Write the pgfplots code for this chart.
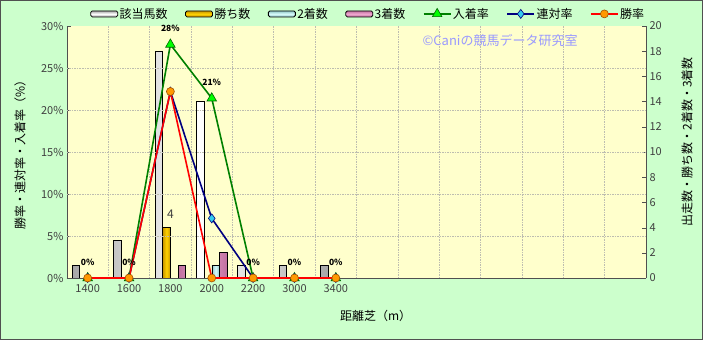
\documentclass[border=0pt]{standalone}
\usepackage{pgfplots}
\pgfplotsset{compat=1.18}
\usepackage{fontspec}
\setmainfont{Noto Sans CJK JP}
\definecolor{outerbg}{HTML}{CCFFCC}
\definecolor{plotbg}{HTML}{FFFFCC}
\definecolor{axisgray}{HTML}{505050}
\definecolor{tickgray}{HTML}{404040}
\definecolor{gridgray}{HTML}{BDBDB0}
\definecolor{wm}{HTML}{9999FF}
\definecolor{greenline}{HTML}{008000}
\definecolor{trifill}{HTML}{00FF00}
\definecolor{tridraw}{HTML}{006400}
\definecolor{navyline}{HTML}{000080}
\definecolor{diafill}{HTML}{33CCEE}
\definecolor{redline}{HTML}{FF0000}
\definecolor{circfill}{HTML}{FF9900}
\definecolor{circdraw}{HTML}{A05000}
\definecolor{goldA}{HTML}{C89600}
\definecolor{goldB}{HTML}{FFD200}
\definecolor{cyanA}{HTML}{90C8C8}
\definecolor{cyanB}{HTML}{D8FAFA}
\definecolor{pinkA}{HTML}{C070A0}
\definecolor{pinkB}{HTML}{F0A8D0}
\definecolor{whiteA}{HTML}{A8A8A8}
\pgfplotsset{
  barlegend/.style={legend image code/.code={\draw[##1,rounded corners=1.5pt] (0pt,-3pt) rectangle (27pt,3pt);}},
  linelegend/.style={legend image code/.code={\draw[mark repeat=2,mark phase=2,##1] plot coordinates {(0pt,0pt) (13.5pt,0pt) (27pt,0pt)};}},
}
\begin{document}
\begin{tikzpicture}[x=1pt,y=1pt]
\fill[outerbg] (0,0) rectangle (703,340);
% ---------- bar axis (right) ----------
\begin{axis}[
  at={(67pt,62pt)}, anchor=south west,
  scale only axis, width=579pt, height=252pt,
  xmin=-0.5, xmax=13.5, ymin=0, ymax=20,
  axis background/.style={fill=plotbg},
  axis x line=none, axis y line*=right,
  y axis line style={-, draw=axisgray},
  ytick={0,2,...,20},
  tick align=inside, major tick length=4pt,
  ytick style={draw=axisgray},
  /pgf/number format/assume math mode=true,
  yticklabel style={text=tickgray, font=\fontsize{11}{12}\selectfont},
  ylabel={出走数・勝ち数・2着数・3着数},
  every axis y label/.style={at={(axis description cs:1.0708,0.54)}, rotate=90, anchor=center, font=\fontsize{12}{13}\selectfont},
  clip=false,
]
\addplot[ybar, bar width=7.5pt, bar shift=-11.6pt, draw=black, line width=0.7pt, left color=whiteA, right color=whiteA, middle color=white]
  coordinates {(0,1) (1,3) (2,18) (3,14) (4,1) (5,1) (6,1)};
\addplot[ybar, bar width=7.5pt, bar shift=-3.9pt, draw=black, line width=0.7pt, left color=goldA, right color=goldA, middle color=goldB,
  point meta=explicit symbolic, nodes near coords,
  nodes near coords style={anchor=center, yshift=13pt, text=tickgray, font=\fontsize{12}{13}\selectfont}]
  coordinates {(2,4) [4]};
\addplot[ybar, bar width=7.5pt, bar shift=3.9pt, draw=black, line width=0.7pt, left color=cyanA, right color=cyanA, middle color=cyanB]
  coordinates {(3,1)};
\addplot[ybar, bar width=7.5pt, bar shift=11.6pt, draw=black, line width=0.7pt, left color=pinkA, right color=pinkA, middle color=pinkB]
  coordinates {(2,1) (3,2)};
\end{axis}
% ---------- line axis (left) ----------
\begin{axis}[
  at={(67pt,62pt)}, anchor=south west,
  scale only axis, width=579pt, height=252pt,
  xmin=-0.5, xmax=13.5, ymin=0, ymax=30,
  axis y line*=left, axis x line*=bottom,
  x axis line style={-, draw=axisgray}, y axis line style={-, draw=axisgray},
  xtick={0,1,2,3,4,5,6},
  xticklabels={1400,1600,1800,2000,2200,3000,3400},
  xtick style={draw=none},
  minor xtick={0.5,1.5,...,12.5},
  minor x tick style={draw=none},
  xminorgrids=true,
  minor grid style={gridgray, dash pattern=on 1.5pt off 1pt, line width=0.7pt},
  major grid style={gridgray, dash pattern=on 1.5pt off 1pt, line width=0.7pt},
  ytick={0,5,...,30},
  yticklabel={\pgfmathprintnumber{\tick}\%},
  extra y ticks={5,10,15,20,25},
  extra y tick labels={},
  extra y tick style={grid=major, major tick length=0pt},
  tick align=inside, major tick length=4pt,
  ytick style={draw=axisgray},
  /pgf/number format/assume math mode=true,
  tick label style={text=tickgray, font=\fontsize{11}{12}\selectfont},
  xticklabel style={yshift=-3pt},
  ylabel={勝率・連対率・入着率（\%）},
  every axis y label/.style={at={(axis description cs:-0.0812,0.5)}, rotate=90, anchor=center, font=\fontsize{12}{13}\selectfont},
  xlabel={距離芝（m）},
  every axis x label/.style={at={(axis description cs:0.533,-0.151)}, anchor=center, font=\fontsize{12}{13}\selectfont},
  clip=false,
  legend columns=7,
  linelegend,
  legend style={at={(axis description cs:0.04,1.048)}, anchor=west, draw=none, fill=none, inner sep=0pt,
    font=\fontsize{12}{13}\selectfont, nodes={inner sep=1.5pt},
    /tikz/every even column/.append style={column sep=16pt}},
]
\addlegendimage{barlegend, draw=black, line width=0.8pt, top color=whiteA, bottom color=whiteA, middle color=white}
\addlegendentry{該当馬数}
\addlegendimage{barlegend, draw=black, line width=0.8pt, top color=goldA, bottom color=goldA, middle color=goldB}
\addlegendentry{勝ち数}
\addlegendimage{barlegend, draw=black, line width=0.8pt, top color=cyanA, bottom color=cyanA, middle color=cyanB}
\addlegendentry{2着数}
\addlegendimage{barlegend, draw=black, line width=0.8pt, top color=pinkA, bottom color=pinkA, middle color=pinkB}
\addlegendentry{3着数}
\addplot[greenline, line width=1.6pt, mark=triangle*, mark size=5.5pt,
  mark options={solid, fill=trifill, draw=tridraw, line width=0.6pt},
  point meta=explicit symbolic, nodes near coords,
  nodes near coords style={anchor=center, yshift=16pt, text=black, font=\bfseries\fontsize{8.5}{9}\selectfont}]
  coordinates {(0,0) [0\%] (1,0) [0\%] (2,27.8) [28\%] (3,21.4) [21\%] (4,0) [0\%] (5,0) [0\%] (6,0) [0\%]};
\addlegendentry{入着率}
\addplot[navyline, line width=1.6pt, mark=diamond*, mark size=4.5pt,
  mark options={solid, fill=diafill, draw=navyline, line width=0.6pt}]
  coordinates {(0,0) (1,0) (2,22.2) (3,7.1) (4,0) (5,0) (6,0)};
\addlegendentry{連対率}
\addplot[redline, line width=1.6pt, mark=*, mark size=4pt,
  mark options={solid, fill=circfill, draw=circdraw, line width=0.6pt}]
  coordinates {(0,0) (1,0) (2,22.2) (3,0) (4,0) (5,0) (6,0)};
\addlegendentry{勝率}
\node[text=wm, font=\fontsize{13}{14}\selectfont] at (rel axis cs:0.748,0.944) {©Caniの競馬データ研究室};
\end{axis}
\draw[axisgray, line width=1.2pt] (0.6,0.6) rectangle (702.4,339.4);
\pgfresetboundingbox
\path[use as bounding box] (0,0) rectangle (703,340);
\end{tikzpicture}
\end{document}
